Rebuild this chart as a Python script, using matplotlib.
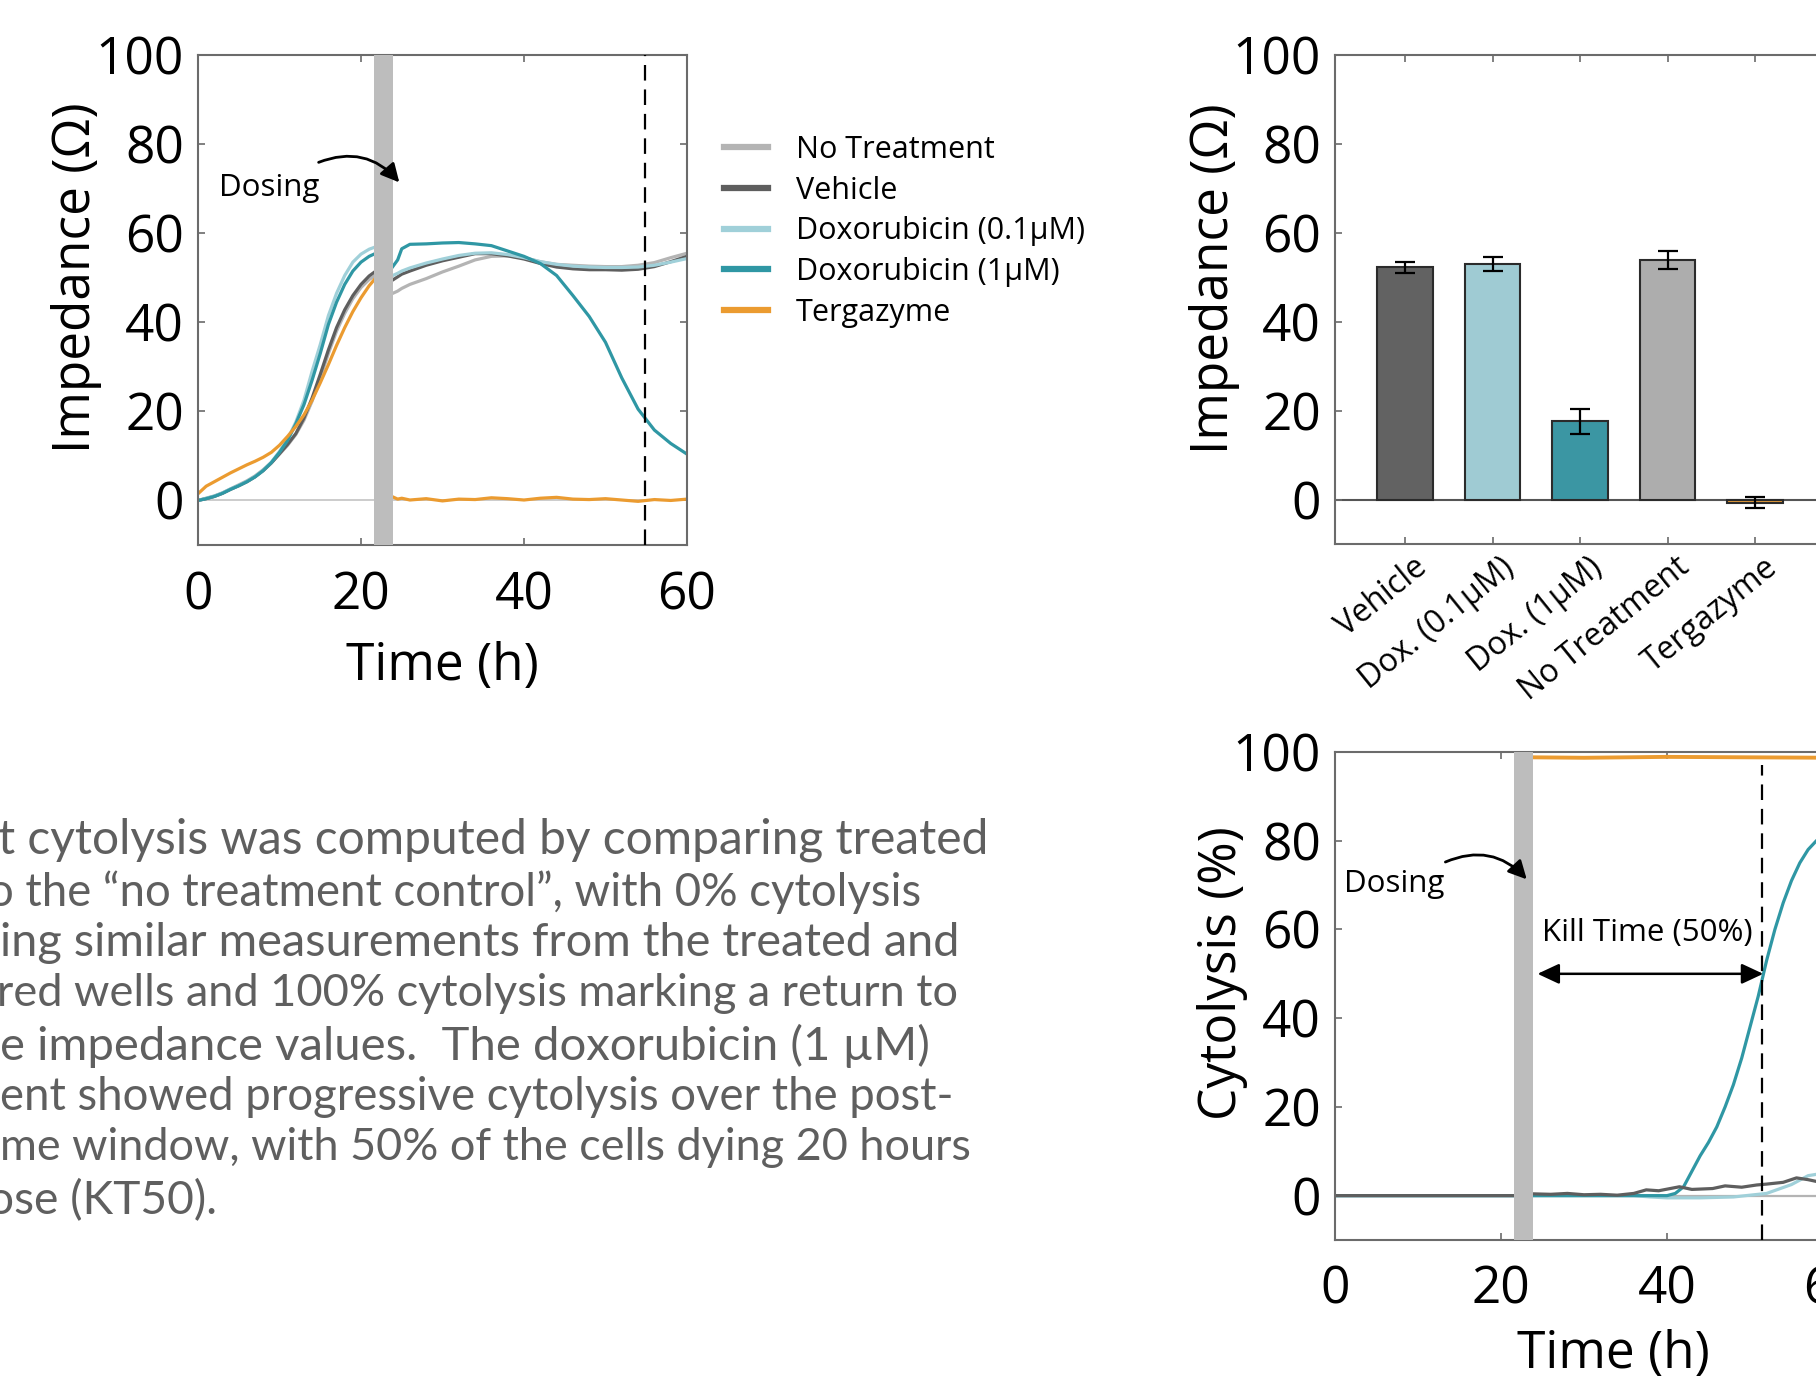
import numpy as np
import matplotlib
matplotlib.use('Agg')
import matplotlib.pyplot as plt
from matplotlib.lines import Line2D
import matplotlib.transforms as mtransforms

plt.rcParams['font.family'] = ['Open Sans', 'DejaVu Sans']

# ---------------- data ----------------
series_labels = ['No Treatment', 'Vehicle', 'Doxorubicin (0.1\u00b5M)', 'Doxorubicin (1\u00b5M)', 'Tergazyme']

# impedance time courses (h, Ohm)
t_pre = [0, 1, 2, 3, 4, 5, 6, 7, 8, 9, 10, 11, 12, 13, 14, 15, 16, 17, 18, 19, 20, 21, 21.6]
imp_pre_none = [0, 0.5, 1.0, 1.7, 2.6, 3.5, 4.4, 5.5, 6.9, 8.5, 10.4, 12.4, 14.8, 18, 22.3, 27.5, 33, 38, 42, 45.3, 47.8, 49.6, 50.3]
imp_pre_veh = [0, 0.4, 0.9, 1.6, 2.5, 3.3, 4.2, 5.3, 6.7, 8.4, 10.5, 12.6, 15, 18.5, 23, 28.3, 33.8, 38.8, 42.8, 46, 48.5, 50.4, 51.2]
imp_pre_dox01 = [0, 0.5, 1.0, 1.7, 2.6, 3.4, 4.3, 5.4, 6.8, 8.6, 11, 13.8, 17.6, 22.5, 29, 35, 41.5, 46.5, 50.5, 53.5, 55.3, 56.4, 56.8]
imp_pre_dox1 = [0, 0.4, 0.9, 1.6, 2.5, 3.3, 4.2, 5.3, 6.7, 8.5, 10.8, 13.5, 17.2, 21.5, 27, 33, 39.5, 44.5, 48.5, 51.5, 53.5, 54.8, 55.3]
imp_pre_terg = [1.5, 3.2, 4.2, 5.2, 6.2, 7.1, 8, 8.8, 9.7, 10.8, 12.4, 14.4, 16.6, 19.2, 22.5, 26.4, 30.5, 34.8, 38.8, 42.4, 45.5, 48.2, 49.5]

t_post = [23.9, 24.5, 25, 26, 28, 30, 32, 34, 36, 38, 40, 42, 44, 46, 48, 50, 52, 54, 56, 58, 60]
imp_post_none = [46.5, 47, 47.6, 48.5, 49.8, 51.3, 52.6, 54, 54.8, 54.9, 54.5, 53.6, 53, 52.8, 52.6, 52.5, 52.5, 52.8, 53.4, 54.5, 55.5]
imp_post_veh = [49.5, 50.2, 50.8, 51.5, 52.8, 53.8, 54.6, 55.4, 55.4, 54.9, 54.2, 53.2, 52.4, 52, 51.8, 51.8, 51.7, 51.9, 52.5, 53.6, 54.8]
imp_post_dox01 = [50.5, 51, 51.5, 52.2, 53.3, 54.2, 55, 55.5, 55.6, 55.2, 54.5, 53.6, 53, 52.6, 52.4, 52.3, 52.3, 52.4, 52.8, 53.5, 54.3]
imp_post_dox1 = [52.5, 54, 56.5, 57.5, 57.6, 57.8, 57.9, 57.6, 57.2, 56, 54.8, 53.2, 50.5, 46, 41.3, 35.5, 27.5, 20.5, 15.8, 12.8, 10.4]
imp_post_terg = [0.8, 0.3, 0.5, 0.1, 0.4, -0.1, 0.3, 0.2, 0.6, 0.4, 0.1, 0.5, 0.7, 0.3, 0.2, 0.4, 0.1, -0.2, 0.2, 0.0, 0.3]

dose_start, dose_end = 21.6, 23.9
endpoint_time = 54.9

# bar chart (impedance at endpoint)
bar_labels = ['Vehicle', 'Dox. (0.1\u00b5M)', 'Dox. (1\u00b5M)', 'No Treatment', 'Tergazyme']
bar_values = [52.2, 52.9, 17.6, 53.8, -0.7]
bar_errors = [1.3, 1.6, 2.8, 2.0, 1.3]

# cytolysis time courses (%)
t_cyto_none = [0, 67]
cyto_none = [0, 0]
t_cyto_veh = [0, 21.6, 23.9, 26, 28, 30, 32, 34, 36, 37.5, 39, 41.5, 43, 45.5, 47, 49, 50.8, 52, 54, 55.6, 57, 58, 60, 63, 67]
cyto_veh = [0, 0, 0.4, 0.3, 0.5, 0.2, 0.3, 0.1, 0.5, 1.3, 1.1, 2.0, 1.4, 1.6, 2.2, 1.9, 2.4, 2.6, 3.0, 4.0, 3.6, 3.2, 3.0, 2.6, 2.2]
t_cyto_dox01 = [0, 21.6, 23.9, 36, 38, 40, 44, 48, 52, 55, 57, 58, 60, 63, 67]
cyto_dox01 = [0, 0, 0, 0, -0.3, -0.5, -0.5, -0.3, 0.5, 2.5, 4.5, 4.8, 5.0, 5.2, 5.4]
t_cyto_dox1 = [0, 21.6, 23.9, 40, 41, 42, 43, 44, 45, 46, 47, 48, 49, 50, 51, 52, 53, 54, 55, 56, 57, 58, 60, 63, 67]
cyto_dox1 = [0, 0, 0, 0, 0.5, 2, 5.5, 9, 12, 15.5, 20, 25, 31, 38, 45, 53, 60, 66, 71, 75, 78, 80, 83, 86, 88]
t_cyto_terg = [23.9, 30, 40, 50, 60, 67]
cyto_terg = [98.8, 98.7, 98.9, 98.8, 98.7, 98.8]
kill_time_start, kill_time_end = 24.4, 51.6
cyto_endpoint = 51.4

paragraph_lines = [
    "t cytolysis was computed by comparing treated",
    "o the \u201cno treatment control\u201d, with 0% cytolysis",
    "ing similar measurements from the treated and",
    "red wells and 100% cytolysis marking a return to",
    "e impedance values.  The doxorubicin (1 \u00b5M)",
    "ent showed progressive cytolysis over the post-",
    "me window, with 50% of the cells dying 20 hours",
    "ose (KT50).",
]

# ---------------- style ----------------
c_none = '#b4b4b4'
c_veh = '#5e5e5e'
c_dox01 = '#a0d0d9'
c_dox1 = '#2f97a4'
c_terg = '#eb9b30'
line_colors = [c_none, c_veh, c_dox01, c_dox1, c_terg]
bar_colors = ['#626262', '#9fcbd3', '#3b96a3', '#adadad', '#e39a3a']
band_color = '#bdbdbd'
spine_color = '#6b6b6b'

W, H = 1816, 1376
fig = plt.figure(figsize=(W / 100, H / 100), dpi=100)
fig.patch.set_facecolor('white')

TICK_FS = 37
LABEL_FS = 37


def style_axes(ax, xpad=18):
    for s in ax.spines.values():
        s.set_color(spine_color)
        s.set_linewidth(1.5)
    ax.tick_params(direction='in', top=True, right=True, length=5, width=1.2,
                   color=spine_color, labelsize=TICK_FS, labelcolor='black')
    ax.tick_params(axis='y', pad=10)
    ax.tick_params(axis='x', pad=xpad)


def px_axes(left, top, right, bottom):
    return fig.add_axes([left / W, 1 - bottom / H, (right - left) / W, (bottom - top) / H])


# ---------------- left: impedance time course ----------------
ax1 = px_axes(198, 55, 687, 545)
ax1.axhline(0, color='#c8c8c8', lw=1.3, zorder=1)
pre_sets = [imp_pre_none, imp_pre_veh, imp_pre_dox01, imp_pre_dox1, imp_pre_terg]
post_sets = [imp_post_none, imp_post_veh, imp_post_dox01, imp_post_dox1, imp_post_terg]
for pre, post, col in zip(pre_sets, post_sets, line_colors):
    ax1.plot(t_pre, pre, color=col, lw=2.3, zorder=2)
    ax1.plot(t_post, post, color=col, lw=2.3, zorder=2)
ax1.axvspan(dose_start, dose_end, color=band_color, lw=0, zorder=3)
ax1.axvline(endpoint_time, color='black', lw=1.6, dashes=(7, 4), zorder=4)
ax1.set_xlim(0, 60)
ax1.set_ylim(-10, 100)
ax1.set_xticks([0, 20, 40, 60])
ax1.set_yticks([0, 20, 40, 60, 80, 100])
style_axes(ax1)
ax1.set_xlabel('Time (h)', fontsize=LABEL_FS)
ax1.set_ylabel('Impedance (\u03a9)', fontsize=LABEL_FS)
ax1.yaxis.set_label_coords(-0.197, 0.545)
ax1.xaxis.set_label_coords(0.5, -0.195)
ax1.text(2.6, 68.4, 'Dosing', fontsize=22.5, va='baseline', ha='left', zorder=5)
ax1.annotate('', xy=(24.7, 71.4), xytext=(14.8, 75.9),
             arrowprops=dict(arrowstyle='-|>,head_length=0.55,head_width=0.28',
                             connectionstyle='arc3,rad=-0.35', color='black', lw=2,
                             shrinkA=0, shrinkB=0, mutation_scale=20), zorder=5)

handles = [Line2D([], [], color=c, lw=4.5) for c in line_colors]
fig.legend(handles, series_labels, loc='upper left',
           bbox_to_anchor=(724 / W, 1 - 135 / H), bbox_transform=fig.transFigure,
           frameon=False, fontsize=22, handlelength=1.45, handletextpad=0.9,
           labelspacing=0.35, borderpad=0, borderaxespad=0)

# ---------------- top right: bar chart ----------------
ax2 = px_axes(1335, 55, 1335 + 5.6 * 87.5, 544)
xpos = np.arange(1, len(bar_values) + 1)
ax2.axhline(0, color='#555555', lw=1.5, zorder=1)
ax2.bar(xpos, bar_values, width=0.63, color=bar_colors, edgecolor='#2b2b2b', lw=1.5, zorder=2)
ax2.errorbar(xpos, bar_values, yerr=bar_errors, fmt='none', ecolor='black',
             elinewidth=1.6, capsize=7, capthick=1.6, zorder=3)
ax2.set_xlim(0.2, 5.8)
ax2.set_ylim(-10, 100)
ax2.set_yticks([0, 20, 40, 60, 80, 100])
ax2.set_xticks(xpos)
style_axes(ax2, xpad=5)
ax2.set_xticklabels(bar_labels, rotation=39, ha='right', va='top',
                    rotation_mode='anchor', fontsize=23)
offset = mtransforms.ScaledTranslation(8 / 100, 0, fig.dpi_scale_trans)
for lab in ax2.get_xticklabels():
    lab.set_transform(lab.get_transform() + offset)
ax2.set_ylabel('Impedance (\u03a9)', fontsize=LABEL_FS)
ax2.yaxis.set_label_coords(-0.194, 0.543)

# ---------------- bottom right: cytolysis ----------------
ax3 = px_axes(1335, 752, 1335 + 67 * 8.3, 1240)
ax3.plot(t_cyto_none, cyto_none, color=c_none, lw=1.6, zorder=2)
ax3.plot(t_cyto_dox01, cyto_dox01, color=c_dox01, lw=2.3, zorder=2)
ax3.plot(t_cyto_dox1, cyto_dox1, color=c_dox1, lw=2.3, zorder=2)
ax3.plot(t_cyto_veh, cyto_veh, color=c_veh, lw=2.3, zorder=2)
ax3.plot(t_cyto_terg, cyto_terg, color=c_terg, lw=2.8, zorder=2)
ax3.axvspan(dose_start, dose_end, color=band_color, lw=0, zorder=3)
ax3.plot([cyto_endpoint, cyto_endpoint], [-10, 97], color='black', lw=1.6, dashes=(7, 4), zorder=4)
ax3.set_xlim(0, 67)
ax3.set_ylim(-10, 100)
ax3.set_xticks([0, 20, 40, 60])
ax3.set_yticks([0, 20, 40, 60, 80, 100])
style_axes(ax3)
ax3.set_xlabel('Time (h)', fontsize=LABEL_FS)
ax3.set_ylabel('Cytolysis (%)', fontsize=LABEL_FS)
ax3.yaxis.set_label_coords(-0.157, 0.546)
ax3.xaxis.set_label_coords(0.5, -0.182)
ax3.text(1.05, 68.4, 'Dosing', fontsize=22.5, va='baseline', ha='left', zorder=5)
ax3.annotate('', xy=(23.1, 71.3), xytext=(13.3, 75.2),
             arrowprops=dict(arrowstyle='-|>,head_length=0.55,head_width=0.28',
                             connectionstyle='arc3,rad=-0.35', color='black', lw=2,
                             shrinkA=0, shrinkB=0, mutation_scale=20), zorder=5)
ax3.annotate('', xy=(kill_time_end, 50), xytext=(kill_time_start, 50),
             arrowprops=dict(arrowstyle='<|-|>,head_length=0.6,head_width=0.28', color='black',
                             lw=1.8, shrinkA=0, shrinkB=0, mutation_scale=22), zorder=5)
ax3.text(37.6, 57.3, 'Kill Time (50%)', fontsize=22.5,
         ha='center', va='baseline', zorder=5)

# ---------------- paragraph ----------------
line_y = [840, 892, 943, 994, 1046, 1097, 1148, 1201]
line_x = [-2, -12, 0, -3, 0, 0, 0, -12]
line_right = [990, 923, 960, 961, 929, 955, 973, 188]
para_font = ['Lato', 'DejaVu Sans']
texts = []
fs0 = 28
for s, yy, xx in zip(paragraph_lines, line_y, line_x):
    texts.append(fig.text(xx / W, 1 - yy / H, s, fontsize=fs0, family=para_font,
                          fontweight='normal', color='#5f5f5f', ha='left', va='center'))
fig.canvas.draw()
r = fig.canvas.get_renderer()
fits = []
for t, xx, xr in zip(texts[:-1], line_x[:-1], line_right[:-1]):
    w0 = t.get_window_extent(r).width
    fits.append(fs0 * (xr - xx) / w0)
for t, f in zip(texts[:-1], fits):
    t.set_fontsize(f)
texts[-1].set_fontsize(float(np.mean(fits)))

fig.savefig('out.png', dpi=100, facecolor='white')
